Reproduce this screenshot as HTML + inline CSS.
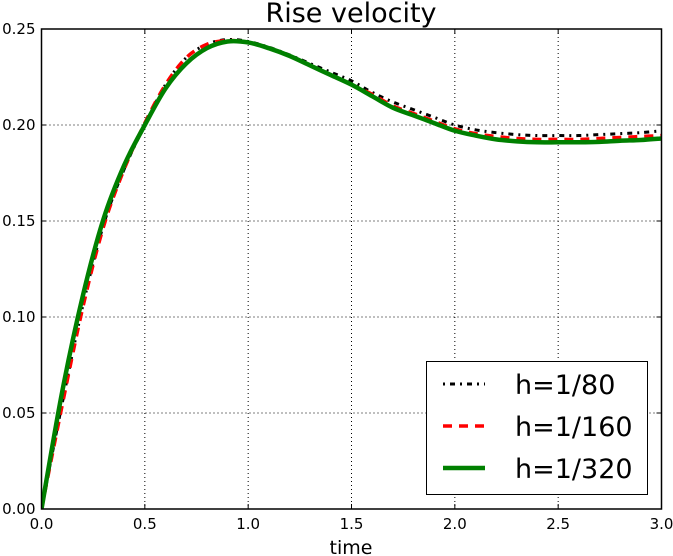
<!DOCTYPE html>
<html><head><meta charset="utf-8"><style>
html,body{margin:0;padding:0;background:#fff;}
svg{display:block;font-family:"DejaVu Sans","Liberation Sans",sans-serif;}
</style></head><body>
<svg id="chart" width="673" height="556" viewBox="0 0 673 556"></svg>
<script>
const xTicks=[0.0,0.5,1.0,1.5,2.0,2.5,3.0];
const xTickLabels=["0.0","0.5","1.0","1.5","2.0","2.5","3.0"];
const yTicks=[0,0.05,0.10,0.15,0.20,0.25];
const yTickLabels=["0.00","0.05","0.10","0.15","0.20","0.25"];
const times=[0,0.1,0.2,0.3,0.4,0.5,0.6,0.7,0.8,0.9,1.0,1.1,1.2,1.3,1.4,1.5,1.6,1.7,1.8,1.9,2.0,2.1,2.2,2.3,2.4,2.5,2.6,2.7,2.8,2.9,3.0];
const h80=[0,0.055,0.106,0.148,0.177,0.200,0.221,0.235,0.242,0.2445,0.2435,0.2405,0.2365,0.232,0.2275,0.223,0.217,0.212,0.208,0.204,0.200,0.1975,0.196,0.195,0.1945,0.1945,0.1945,0.195,0.1955,0.196,0.197];
const h160=[0,0.054,0.105,0.147,0.177,0.201,0.221,0.235,0.242,0.244,0.243,0.240,0.236,0.231,0.226,0.221,0.216,0.210,0.206,0.202,0.198,0.1955,0.194,0.193,0.1925,0.1925,0.1925,0.193,0.1935,0.194,0.1945];
const h320=[0,0.061,0.111,0.151,0.179,0.200,0.219,0.232,0.240,0.2435,0.243,0.240,0.236,0.231,0.226,0.221,0.215,0.209,0.205,0.201,0.197,0.1945,0.1925,0.1915,0.191,0.191,0.191,0.1912,0.1918,0.1922,0.193];
const series=[
 {name:"h=1/80",vals:h80,color:"#000",width:3,dash:"2,5,5,5",key:"h80"},
 {name:"h=1/160",vals:h160,color:"#ff0000",width:3.5,dash:"9,7",key:"h160"},
 {name:"h=1/320",vals:h320,color:"#008000",width:4.5,dash:"",key:"h320"}
];
const X0=41.5,X1=661.5,Y0=509,Y1=29;
const sx=v=>X0+(v-0)/(3-0)*(X1-X0);
const sy=v=>Y0-(v-0)/(0.25-0)*(Y0-Y1);
const svg=document.getElementById('chart');
const NS="http://www.w3.org/2000/svg";
function mk(tag,attrs,parent){const e=document.createElementNS(NS,tag);for(const k in attrs)e.setAttribute(k,attrs[k]);(parent||svg).appendChild(e);return e;}
function smooth(pts){
 let d='M'+pts[0][0].toFixed(2)+','+pts[0][1].toFixed(2);
 for(let i=0;i<pts.length-1;i++){
  const p0=pts[Math.max(0,i-1)],p1=pts[i],p2=pts[i+1],p3=pts[Math.min(pts.length-1,i+2)];
  const c1=[p1[0]+(p2[0]-p0[0])/6,p1[1]+(p2[1]-p0[1])/6];
  const c2=[p2[0]-(p3[0]-p1[0])/6,p2[1]-(p3[1]-p1[1])/6];
  d+='C'+c1[0].toFixed(2)+','+c1[1].toFixed(2)+' '+c2[0].toFixed(2)+','+c2[1].toFixed(2)+' '+p2[0].toFixed(2)+','+p2[1].toFixed(2);
 }
 return d;
}
const grid=mk('g',{});


xTicks.forEach(t=>{const l=mk('line',{x1:sx(t),x2:sx(t),y1:Y1,y2:Y0,stroke:'#000','stroke-width':1,'stroke-dasharray':'1,3'},grid);

});
yTicks.forEach(t=>{const l=mk('line',{x1:X0,x2:X1,y1:sy(t),y2:sy(t),stroke:'#000','stroke-width':1,'stroke-dasharray':'1,3'},grid);

});
const clip=mk('clipPath',{id:'pc'});mk('rect',{x:X0,y:Y1,width:X1-X0,height:Y0-Y1},clip);
series.forEach(s=>{
 const pts=s.vals.map((v,i)=>[sx(times[i]),sy(v)]);
 const p=mk('path',{d:smooth(pts),fill:'none',stroke:s.color,'stroke-width':s.width,'stroke-dasharray':s.dash,'clip-path':'url(#pc)','stroke-linejoin':'round'});
 
 
});
const frame=mk('rect',{x:X0,y:Y1,width:X1-X0,height:Y0-Y1,fill:'none',stroke:'#000','stroke-width':1.5});


xTicks.forEach((t,i)=>{
 mk('line',{x1:sx(t),x2:sx(t),y1:Y0,y2:Y0-5,stroke:'#000'});mk('line',{x1:sx(t),x2:sx(t),y1:Y1,y2:Y1+5,stroke:'#000'});
 const tx=mk('text',{x:sx(t),y:Y0+20,'text-anchor':'middle','font-size':15});tx.textContent=xTickLabels[i];
 
 
});
yTicks.forEach((t,i)=>{
 mk('line',{x1:X0,x2:X0+5,y1:sy(t),y2:sy(t),stroke:'#000'});mk('line',{x1:X1,x2:X1-5,y1:sy(t),y2:sy(t),stroke:'#000'});
 const tx=mk('text',{x:X0-6,y:sy(t)+5,'text-anchor':'end','font-size':15});tx.textContent=yTickLabels[i];
 
 
});
const title=mk('text',{x:351,y:22,'text-anchor':'middle','font-size':27});title.textContent='Rise velocity';


const xl=mk('text',{x:351,y:554,'text-anchor':'middle','font-size':19});xl.textContent='time';


const lg=mk('g',{});


mk('rect',{x:426.5,y:361.5,width:221,height:133,fill:'#fff',stroke:'#000','stroke-width':1},lg);
series.forEach((s,i)=>{
 const y=384+i*42;
 const e=mk('g',{},lg);
 
 
 mk('line',{x1:443,x2:485,y1:y,y2:y,stroke:s.color,'stroke-width':s.width,'stroke-dasharray':s.dash},e);
 const t=mk('text',{x:515,y:y+10,'font-size':27},e);t.textContent=s.name;
});
</script>
</body></html>
